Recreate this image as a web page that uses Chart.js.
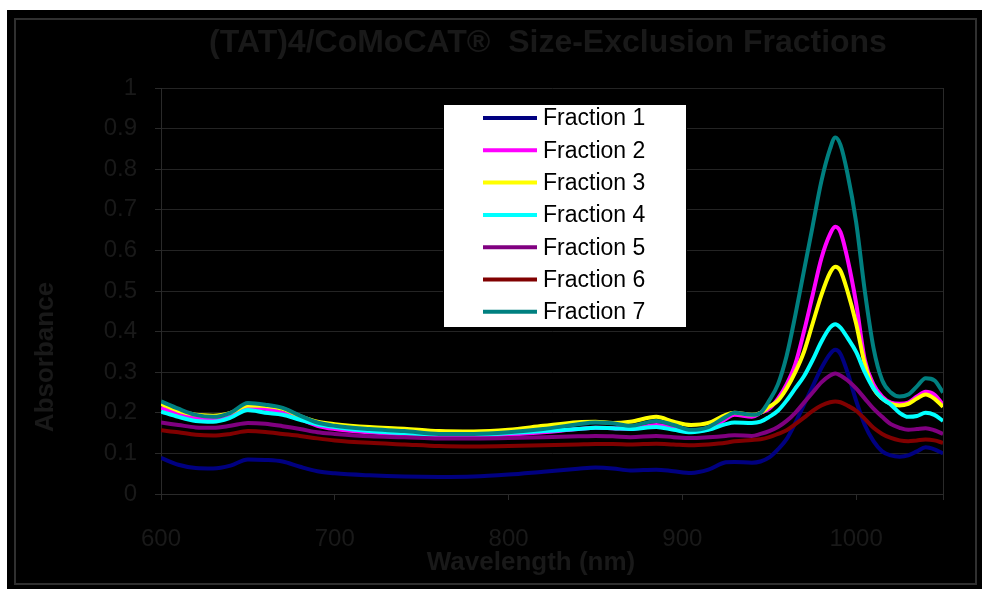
<!DOCTYPE html>
<html>
<head>
<meta charset="utf-8">
<script src="https://cdn.jsdelivr.net/npm/chart.js@4"></script>
<style>
  html, body { margin: 0; padding: 0; background: #fff; }
  #wrap { position: absolute; left: 7px; top: 10px; width: 975px; height: 579px; background: #000; }
</style>
</head>
<body>
<div id="wrap"><canvas id="myChart" width="975" height="579"></canvas></div>
<script>
const chartTitle = "(TAT)4/CoMoCAT®  Size-Exclusion Fractions";
const xTitle = "Wavelength (nm)";
const yTitle = "Absorbance";

const wavelengths = [600, 610, 620, 630, 640, 650, 660, 670, 680, 690, 700, 720, 740, 760, 780, 800, 820, 840, 850, 860, 870, 885, 895, 905, 915, 925, 930, 940, 945, 950, 955, 960, 965, 970, 975, 980, 985, 988, 991, 995, 1000, 1005, 1010, 1015, 1020, 1025, 1030, 1035, 1040, 1045, 1050];

const fraction1 = [0.089, 0.072, 0.064, 0.063, 0.07, 0.085, 0.084, 0.08, 0.067, 0.056, 0.051, 0.046, 0.043, 0.042, 0.043, 0.048, 0.055, 0.062, 0.065, 0.063, 0.058, 0.06, 0.056, 0.052, 0.06, 0.078, 0.079, 0.077, 0.08, 0.09, 0.11, 0.135, 0.175, 0.22, 0.265, 0.31, 0.345, 0.355, 0.345, 0.3, 0.23, 0.17, 0.13, 0.105, 0.095, 0.092, 0.095, 0.105, 0.115, 0.11, 0.1];
const fraction2 = [0.212, 0.198, 0.186, 0.183, 0.192, 0.213, 0.21, 0.2, 0.185, 0.168, 0.16, 0.152, 0.147, 0.142, 0.142, 0.146, 0.152, 0.16, 0.163, 0.162, 0.16, 0.17, 0.163, 0.155, 0.16, 0.185, 0.195, 0.19, 0.2, 0.21, 0.235, 0.27, 0.32, 0.4, 0.49, 0.58, 0.64, 0.658, 0.645, 0.58, 0.47, 0.33, 0.27, 0.24, 0.225, 0.222, 0.225, 0.24, 0.252, 0.245, 0.22];
const fraction3 = [0.222, 0.205, 0.195, 0.193, 0.2, 0.218, 0.217, 0.21, 0.192, 0.178, 0.172, 0.165, 0.161, 0.155, 0.154, 0.158, 0.168, 0.177, 0.178, 0.175, 0.178, 0.19, 0.178, 0.17, 0.175, 0.195, 0.2, 0.195, 0.2, 0.215, 0.23, 0.26, 0.3, 0.35, 0.42, 0.49, 0.545, 0.56, 0.55, 0.5, 0.42, 0.32, 0.26, 0.235, 0.222, 0.218, 0.222, 0.235, 0.245, 0.235, 0.215];
const fraction4 = [0.203, 0.19, 0.18, 0.178, 0.188, 0.207, 0.2, 0.195, 0.183, 0.172, 0.165, 0.155, 0.15, 0.147, 0.147, 0.15, 0.155, 0.16, 0.163, 0.162, 0.16, 0.165, 0.158, 0.152, 0.158, 0.172, 0.176, 0.175, 0.178, 0.19, 0.205, 0.23, 0.26, 0.29, 0.33, 0.375, 0.41, 0.418, 0.41, 0.385, 0.35, 0.3, 0.26, 0.235, 0.22, 0.2, 0.19, 0.192, 0.2, 0.195, 0.18];
const fraction5 = [0.176, 0.17, 0.164, 0.163, 0.168, 0.175, 0.173, 0.167, 0.16, 0.152, 0.148, 0.142, 0.14, 0.137, 0.137, 0.138, 0.14, 0.142, 0.143, 0.142, 0.14, 0.143, 0.14, 0.138, 0.14, 0.143, 0.145, 0.143, 0.148, 0.155, 0.165, 0.18, 0.2, 0.225, 0.25, 0.275, 0.292, 0.297, 0.292, 0.28, 0.26, 0.235, 0.21, 0.19, 0.172, 0.163, 0.158, 0.16, 0.162, 0.157, 0.148];
const fraction6 = [0.157, 0.152, 0.146, 0.144, 0.148, 0.155, 0.153, 0.148, 0.143, 0.137, 0.132, 0.126, 0.122, 0.118, 0.117, 0.118, 0.12, 0.122, 0.123, 0.123, 0.122, 0.124, 0.122, 0.12, 0.122, 0.126, 0.13, 0.133, 0.135, 0.14, 0.148, 0.157, 0.172, 0.188, 0.205, 0.218, 0.226, 0.228, 0.226, 0.218, 0.205, 0.185, 0.163, 0.148, 0.138, 0.132, 0.13, 0.132, 0.134, 0.132, 0.126];
const fraction7 = [0.228, 0.21, 0.195, 0.19, 0.2, 0.224, 0.22, 0.212, 0.193, 0.176, 0.168, 0.16, 0.155, 0.148, 0.148, 0.152, 0.16, 0.172, 0.176, 0.174, 0.168, 0.18, 0.17, 0.158, 0.165, 0.19, 0.2, 0.195, 0.2, 0.23, 0.27, 0.34, 0.44, 0.55, 0.66, 0.77, 0.85, 0.878, 0.86, 0.79, 0.67, 0.5, 0.36, 0.28, 0.25, 0.24, 0.245, 0.265, 0.285, 0.28, 0.25];

const seriesNames = ["Fraction 1", "Fraction 2", "Fraction 3", "Fraction 4", "Fraction 5", "Fraction 6", "Fraction 7"];
const seriesColors = ["#000080", "#ff00ff", "#ffff00", "#00ffff", "#800080", "#800000", "#008080"];
const seriesValues = [fraction1, fraction2, fraction3, fraction4, fraction5, fraction6, fraction7];

const textColor = "#191919";
const gridColor = "#242424";
const axisColor = "#2a2a2a";
const font = "'Liberation Sans', Arial, sans-serif";

const ctx = document.getElementById("myChart").getContext("2d");

// frame, titles and the boxed legend (Excel style)
const decorations = {
  id: "decorations",
  beforeDraw(chart) {
    const c = chart.ctx;
    c.save();
    c.strokeStyle = "#303030";
    c.lineWidth = 2;
    c.strokeRect(8, 9, 961, 565);
    c.restore();
  },
  afterDraw(chart) {
    const c = chart.ctx;
    c.save();
    c.fillStyle = textColor;
    c.textAlign = "center";
    c.textBaseline = "middle";
    c.font = "bold 32px " + font;
    c.fillText(chartTitle, 541, 33);
    c.font = "bold 26px " + font;
    c.fillText(xTitle, 524, 553);
    c.translate(39, 347);
    c.rotate(-Math.PI / 2);
    c.fillText(yTitle, 0, 0);
    c.restore();

    // legend
    const box = { x: 436, y: 94, w: 244, h: 224 };
    c.save();
    c.fillStyle = "#ffffff";
    c.fillRect(box.x, box.y, box.w, box.h);
    c.strokeStyle = "#000000";
    c.lineWidth = 1;
    c.strokeRect(box.x + 0.5, box.y + 0.5, box.w - 1, box.h - 1);
    c.font = "23px " + font;
    c.textAlign = "left";
    c.textBaseline = "middle";
    chart.data.datasets.forEach((ds, i) => {
      const y = box.y + 14 + i * 32.3;
      c.strokeStyle = ds.borderColor;
      c.lineWidth = 4;
      c.beginPath();
      c.moveTo(476, y);
      c.lineTo(530, y);
      c.stroke();
      c.fillStyle = "#000000";
      c.fillText(ds.label, 536, y + 1);
    });
    c.restore();
  }
};

const datasets = seriesNames.map((name, i) => ({
  label: name,
  data: wavelengths.map((w, j) => ({ x: w, y: seriesValues[i][j] })),
  borderColor: seriesColors[i],
  backgroundColor: seriesColors[i],
  borderWidth: 4,
  pointRadius: 0,
  cubicInterpolationMode: "monotone",
  order: 7 - i,
}));

const myChart = new Chart(ctx, {
  type: "line",
  data: { datasets: datasets },
  plugins: [decorations],
  options: {
    responsive: false,
    animation: false,
    devicePixelRatio: 1,
    layout: { padding: { top: 78, right: 39, bottom: 0, left: 0 } },
    plugins: {
      legend: { display: false },
      title: { display: false },
      tooltip: { enabled: false },
    },
    scales: {
      x: {
        type: "linear",
        min: 600,
        max: 1050,
        afterFit: (scale) => { scale.height = 95; },
        border: { color: axisColor, width: 1 },
        grid: {
          color: (c) => (c.tick && c.tick.value === 1050 ? axisColor : "transparent"),
          tickColor: axisColor,
          tickLength: 6,
        },
        ticks: {
          stepSize: 100,
          color: textColor,
          font: { size: 24, family: font },
          padding: 25,
          maxRotation: 0,
          callback: (v) => (v === 1050 ? "" : v),
        },
      },
      y: {
        min: 0,
        max: 1,
        afterFit: (scale) => { scale.width = 154; },
        border: { color: axisColor, width: 1 },
        grid: { color: gridColor, tickColor: axisColor, tickLength: 6 },
        ticks: {
          stepSize: 0.1,
          color: textColor,
          font: { size: 24, family: font },
          padding: 18,
          callback: (v) => String(Number(v.toFixed(1))),
        },
      },
    },
  },
});
</script>
</body>
</html>
